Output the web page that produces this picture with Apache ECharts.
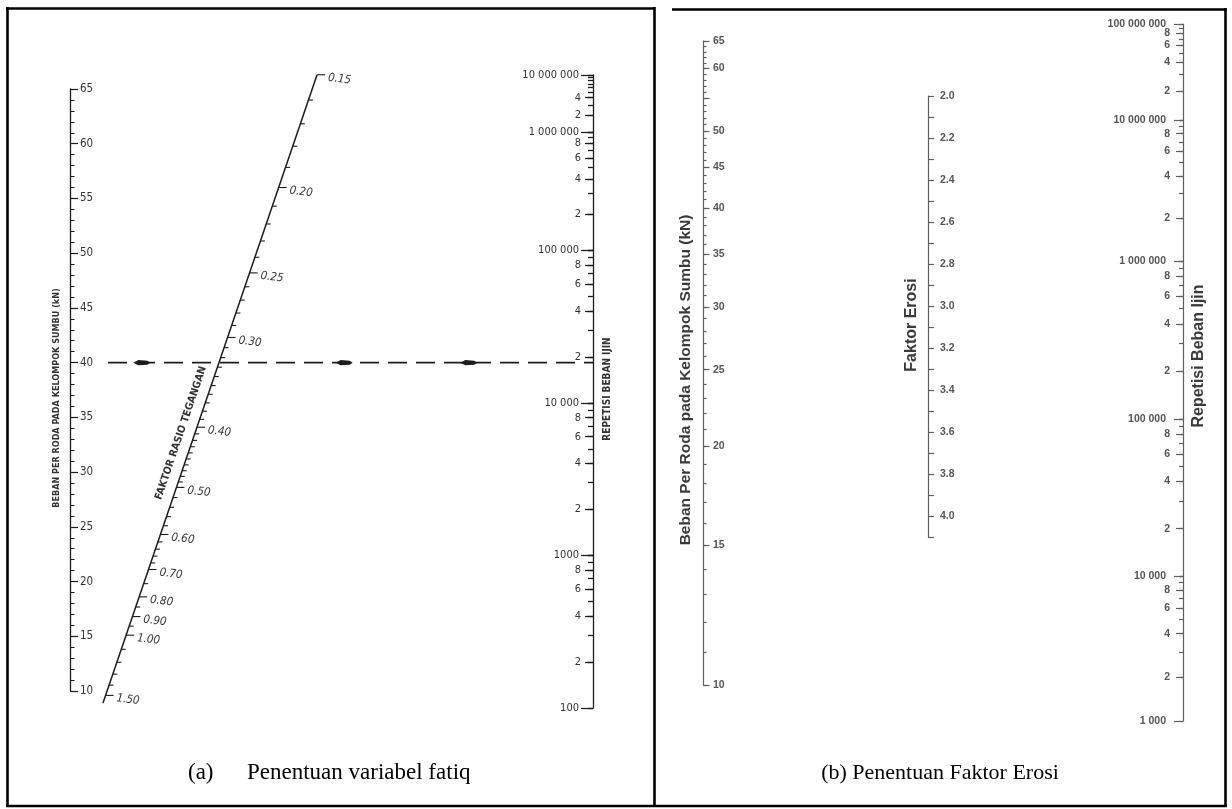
<!DOCTYPE html>
<html>
<head>
<meta charset="utf-8">
<title>Nomogram fatik dan erosi</title>
<script src="https://cdn.jsdelivr.net/npm/echarts@6/dist/echarts.min.js"></script>
<style>
  html, body { margin: 0; padding: 0; background: #fff; }
  #main { width: 1232px; height: 809px; }
</style>
</head>
<body>
<div id="main"></div>
<script>
// ---------- panel (a): penentuan variabel fatiq ----------
const ratioValues = [0.15, 0.20, 0.25, 0.30, 0.40, 0.50, 0.60, 0.70, 0.80, 0.90, 1.00, 1.50]
const ratioLabels = ['0.15', '0.20', '0.25', '0.30', '0.40', '0.50', '0.60', '0.70', '0.80', '0.90', '1.00', '1.50']
// level (in kN of the load scale) at which every ratio mark sits
const ratioAtLoad = [66.3, 56.0, 48.2, 42.3, 34.1, 28.6, 24.3, 21.1, 18.6, 16.8, 15.1, 9.6]
const ratioMinorStep = [0.01, 0.01, 0.01, 0.01, 0.01, 0.02, 0.02, 0.05, 0.05, 0.05, 0.1]
const ratioLineEnd = 8.9
const readLoad = 40

const repDecadesA = [100, 1000, 10000, 100000, 1000000, 10000000]
const repDecadeTextA = ['100', '1000', '10 000', '100 000', '1 000 000', '10 000 000']
const repSkipLabelA = [8000000]

// ---------- panel (b): penentuan faktor erosi ----------
const loadMajorB = [10, 15, 20, 25, 30, 35, 40, 45, 50, 55, 60, 65]
const loadLabelsB = [10, 15, 20, 25, 30, 35, 40, 45, 50, 60, 65]
const erosionLabels = [2.0, 2.2, 2.4, 2.6, 2.8, 3.0, 3.2, 3.4, 3.6, 3.8, 4.0]
const repDecadesB = [1000, 10000, 100000, 1000000, 10000000, 100000000]
const repDecadeTextB = ['1 000', '10 000', '100 000', '1 000 000', '10 000 000', '100 000 000']

const repMultiples = [2, 3, 4, 5, 6, 7, 8, 9]
const repLabeledMultiples = [2, 4, 6, 8]

// ---------- layout (pixels) ----------
const LAY = {
  a: { loadX: 70, top: 89, bottom: 691, repX: 593, repY: [708, 555, 403, 250, 132, 75],
       slant: [103, 703, 317, 75], dashStart: 108 },
  b: { loadX: 703, loadTop: 41, loadBottom: 685, eroX: 928, eroTop: 96, eroBottom: 537,
       repX: 1183, repY: [721, 576, 419, 261, 120, 24] }
}
const INK_A = '#1c1c1c'
const INK_B = '#5e5e5e'
const FONT_A = "'DejaVu Sans Condensed', 'Liberation Sans Narrow', 'DejaVu Sans', sans-serif"
const FONT_B = "'Liberation Sans', Arial, sans-serif"

const grids = []
const xAxes = []
const yAxes = []

function addGrid(left, top, width, height) {
  grids.push({ left: left, top: top, width: width, height: height, outerBoundsMode: 'none' })
  xAxes.push({ type: 'value', gridIndex: grids.length - 1, min: 0, max: 1, show: false })
  return grids.length - 1
}

function lg(v) { return Math.log10(v) }

function repFormatter(decades, texts) {
  return function (v) {
    const n = Math.round(Math.pow(10, v))
    const i = decades.indexOf(n)
    if (i >= 0) return texts[i]
    const p = Math.pow(10, Math.floor(v + 1e-9))
    return String(Math.round(n / p))
  }
}

// one grid per decade so each decade keeps the length it has in the picture
function addRepScale(x, decades, texts, ys, skip, style) {
  const fmt = repFormatter(decades, texts)
  for (let i = 0; i < decades.length - 1; i++) {
    const lo = decades[i], hi = decades[i + 1]
    const last = i === decades.length - 2
    const g = addGrid(x, ys[i + 1], 1, ys[i] - ys[i + 1])
    const all = [lo].concat(repMultiples.map(m => m * lo), [hi])
    const labeled = repLabeledMultiples.map(m => m * lo).filter(v => skip.indexOf(v) < 0)
    const dec = last ? [lo, hi] : [lo]
    const base = {
      type: 'value', gridIndex: g, min: lg(lo), max: lg(hi), position: 'left',
      splitLine: { show: false }
    }
    const lineStyle = { color: style.ink, width: style.width }
    const labelStyle = { fontSize: style.fontSize, color: style.labelColor, fontFamily: style.font,
      fontWeight: style.weight, formatter: fmt }
    yAxes.push(Object.assign({}, base, {
      axisLine: { show: true, onZero: false, lineStyle: lineStyle },
      axisTick: { show: true, length: style.tick[0], customValues: all.map(lg), lineStyle: lineStyle },
      axisLabel: { show: false }
    }))
    yAxes.push(Object.assign({}, base, {
      axisLine: { show: false, onZero: false },
      axisTick: { show: true, length: style.tick[1], customValues: labeled.map(lg), lineStyle: lineStyle },
      axisLabel: Object.assign({ customValues: labeled.map(lg), margin: style.margin[0] }, labelStyle)
    }))
    yAxes.push(Object.assign({}, base, {
      axisLine: { show: false, onZero: false },
      axisTick: { show: true, length: style.tick[2], customValues: dec.map(lg), lineStyle: lineStyle },
      axisLabel: Object.assign({ customValues: dec.map(lg), margin: style.margin[1] }, labelStyle)
    }))
  }
}

// ---- (a) load scale + hidden frame for the slanted ratio scale ----
const gA = addGrid(LAY.a.loadX, LAY.a.top, LAY.a.repX - LAY.a.loadX, LAY.a.bottom - LAY.a.top)
yAxes.push({
  type: 'value', gridIndex: gA, min: 10, max: 65, interval: 5, position: 'left',
  axisLine: { show: true, onZero: false, lineStyle: { color: INK_A, width: 1.3 } },
  axisTick: { show: true, inside: true, length: 8, lineStyle: { color: INK_A, width: 1.2 } },
  minorTick: { show: true, splitNumber: 5, length: 4.5, lineStyle: { color: INK_A, width: 1 } },
  splitLine: { show: false },
  axisLabel: { inside: true, margin: 10, fontSize: 11.5, color: '#333', fontFamily: FONT_A }
})
const yA = yAxes.length - 1

addRepScale(LAY.a.repX, repDecadesA, repDecadeTextA, LAY.a.repY, repSkipLabelA,
  { ink: INK_A, width: 1.3, fontSize: 11, labelColor: '#333', font: FONT_A, weight: 'normal',
    margin: [12, 14], tick: [5, 8, 12] })

// ---- (b) load scale (log) ----
const gBL = addGrid(LAY.b.loadX, LAY.b.loadTop, 1, LAY.b.loadBottom - LAY.b.loadTop)
const loadAllB = []
for (let v = 10; v <= 65; v++) loadAllB.push(v)
const bLineStyle = { color: INK_B, width: 1.2 }
const bLabel = { inside: true, margin: 10, fontSize: 10.5, color: '#555', fontWeight: 'bold', fontFamily: FONT_B }
yAxes.push({
  type: 'value', gridIndex: gBL, min: lg(10), max: lg(65), position: 'left', splitLine: { show: false },
  axisLine: { show: true, onZero: false, lineStyle: bLineStyle },
  axisTick: { show: true, inside: true, length: 3.5, customValues: loadAllB.map(lg), lineStyle: bLineStyle },
  axisLabel: { show: false }
})
yAxes.push({
  type: 'value', gridIndex: gBL, min: lg(10), max: lg(65), position: 'left', splitLine: { show: false },
  axisLine: { show: false, onZero: false },
  axisTick: { show: true, inside: true, length: 6.5, customValues: loadMajorB.map(lg), lineStyle: bLineStyle },
  axisLabel: Object.assign({ customValues: loadLabelsB.map(lg), formatter: v => String(Math.round(Math.pow(10, v))) }, bLabel)
})

// ---- (b) erosion factor scale ----
const gBM = addGrid(LAY.b.eroX, LAY.b.eroTop, 1, LAY.b.eroBottom - LAY.b.eroTop)
const eroTicks = []
for (let k = 0; k <= 21; k++) eroTicks.push(Math.round((2.0 + k * 0.1) * 10) / 10)
yAxes.push({
  type: 'value', gridIndex: gBM, min: 2.0, max: 4.1, inverse: true, position: 'left', splitLine: { show: false },
  axisLine: { show: true, onZero: false, lineStyle: bLineStyle },
  axisTick: { show: true, inside: true, length: 6, customValues: eroTicks, lineStyle: bLineStyle },
  axisLabel: Object.assign({ customValues: erosionLabels, formatter: v => v.toFixed(1) }, bLabel, { margin: 12 })
})

// ---- (b) allowable repetitions ----
addRepScale(LAY.b.repX, repDecadesB, repDecadeTextB, LAY.b.repY, [],
  { ink: INK_B, width: 1.2, fontSize: 10.5, labelColor: '#555', font: FONT_B, weight: 'bold',
    margin: [13, 17], tick: [4, 7, 9] })

// ---- slanted ratio scale: marks between the read ones follow a log spacing ----
const slantTicks = []
ratioValues.forEach((r, i) => {
  slantTicks.push({ value: [r, ratioAtLoad[i]], major: true, text: ratioLabels[i] })
  if (i < ratioValues.length - 1) {
    const r2 = ratioValues[i + 1]
    const n = Math.round((r2 - r) / ratioMinorStep[i])
    for (let k = 1; k < n; k++) {
      const rv = r + k * ratioMinorStep[i]
      const t = Math.log(rv / r) / Math.log(r2 / r)
      slantTicks.push({ value: [rv, ratioAtLoad[i] + t * (ratioAtLoad[i + 1] - ratioAtLoad[i])], major: false })
    }
  }
})

function slantX(y) {
  const s = LAY.a.slant
  return s[0] + (s[1] - y) * (s[2] - s[0]) / (s[1] - s[3])
}

const series = [
  {
    name: 'garis rasio', type: 'custom', xAxisIndex: 0, yAxisIndex: yA, silent: true,
    encode: { y: 1 },
    data: [[ratioLineEnd, ratioAtLoad[0]]],
    renderItem: (params, api) => {
      const yb = api.coord([0, api.value(0)])[1]
      const yt = api.coord([0, api.value(1)])[1]
      return { type: 'line', shape: { x1: slantX(yb), y1: yb, x2: slantX(yt), y2: yt },
        style: { stroke: INK_A, lineWidth: 1.5 } }
    }
  },
  {
    name: 'faktor rasio tegangan', type: 'custom', xAxisIndex: 0, yAxisIndex: yA, silent: true,
    encode: { y: 1 },
    data: slantTicks.map(t => t.value),
    renderItem: (params, api) => {
      const t = slantTicks[params.dataIndex]
      const y = api.coord([0, api.value(1)])[1]
      const x = slantX(y)
      const children = [{ type: 'line', shape: { x1: x, y1: y, x2: x + (t.major ? 8 : 4.5), y2: y },
        style: { stroke: INK_A, lineWidth: 1.1 } }]
      if (t.major) {
        children.push({ type: 'text', x: x + 11, y: y + 3, rotation: -0.12,
          style: { text: t.text, font: 'italic 11.5px ' + FONT_A, fill: '#333', verticalAlign: 'middle' } })
      }
      return { type: 'group', children: children }
    }
  },
  {
    name: 'garis baca', type: 'custom', xAxisIndex: 0, yAxisIndex: yA, silent: true,
    encode: { y: 0 },
    data: [[readLoad]],
    renderItem: (params, api) => {
      const y = api.coord([0, api.value(0)])[1]
      const x0 = LAY.a.dashStart, x1 = LAY.a.repX, xc = slantX(y)
      const arrow = cx => ({ type: 'polygon',
        shape: { points: [[cx - 8, y], [cx - 3, y - 2.6], [cx + 6, y - 2], [cx + 9, y], [cx + 6, y + 2], [cx - 3, y + 2.6]] },
        style: { fill: INK_A } })
      return { type: 'group', children: [
        { type: 'line', shape: { x1: x0, y1: y, x2: x1, y2: y },
          style: { stroke: INK_A, lineWidth: 1.6, lineDash: [19, 9] } },
        arrow(x0 + 0.3 * (xc - x0)), arrow(xc + (x1 - xc) / 3), arrow(xc + 2 * (x1 - xc) / 3)
      ] }
    }
  }
]

const border = { stroke: '#000', lineWidth: 2.6 }
const serif = '"Liberation Serif", "Times New Roman", serif'
const graphic = [
  { type: 'line', shape: { x1: 7.5, y1: 7, x2: 7.5, y2: 807 }, style: border },
  { type: 'line', shape: { x1: 6, y1: 8.5, x2: 655, y2: 8.5 }, style: border },
  { type: 'line', shape: { x1: 672, y1: 9.5, x2: 1226.5, y2: 9.5 }, style: border },
  { type: 'line', shape: { x1: 654.5, y1: 7, x2: 654.5, y2: 807 }, style: border },
  { type: 'line', shape: { x1: 1225.5, y1: 8, x2: 1225.5, y2: 807 }, style: border },
  { type: 'line', shape: { x1: 6, y1: 806, x2: 1227, y2: 806 }, style: border },
  // axis titles
  { type: 'text', x: 57, y: 398, rotation: Math.PI / 2,
    style: { text: 'BEBAN PER RODA PADA KELOMPOK SUMBU (kN)', font: 'bold 9px ' + FONT_A, fill: '#333', align: 'center', verticalAlign: 'middle' } },
  { type: 'text', x: 181, y: 433, rotation: Math.atan2(LAY.a.slant[1] - LAY.a.slant[3], LAY.a.slant[2] - LAY.a.slant[0]),
    style: { text: 'FAKTOR RASIO TEGANGAN', font: 'bold 10.5px ' + FONT_A, fill: '#333', align: 'center', verticalAlign: 'middle' } },
  { type: 'text', x: 607, y: 389, rotation: Math.PI / 2,
    style: { text: 'REPETISI BEBAN IJIN', font: 'bold 10px ' + FONT_A, fill: '#333', align: 'center', verticalAlign: 'middle' } },
  { type: 'text', x: 686, y: 380, rotation: Math.PI / 2,
    style: { text: 'Beban Per Roda pada Kelompok Sumbu (kN)', font: 'bold 15.5px ' + FONT_B, fill: '#3a3a3a', align: 'center', verticalAlign: 'middle' } },
  { type: 'text', x: 912, y: 325, rotation: Math.PI / 2,
    style: { text: 'Faktor Erosi', font: 'bold 16px ' + FONT_B, fill: '#3a3a3a', align: 'center', verticalAlign: 'middle' } },
  { type: 'text', x: 1199, y: 356, rotation: Math.PI / 2,
    style: { text: 'Repetisi Beban Ijin', font: 'bold 16px ' + FONT_B, fill: '#3a3a3a', align: 'center', verticalAlign: 'middle' } },
  // captions
  { type: 'text', x: 188, y: 773,
    style: { text: '(a)', font: '23px ' + serif, fill: '#000', verticalAlign: 'middle' } },
  { type: 'text', x: 247, y: 773,
    style: { text: 'Penentuan variabel fatiq', font: '23px ' + serif, fill: '#000', verticalAlign: 'middle' } },
  { type: 'text', x: 940, y: 773,
    style: { text: '(b) Penentuan Faktor Erosi', font: '22px ' + serif, fill: '#000', align: 'center', verticalAlign: 'middle' } }
]

const chart = echarts.init(document.getElementById('main'))
chart.setOption({
  animation: false,
  backgroundColor: '#fff',
  grid: grids,
  xAxis: xAxes,
  yAxis: yAxes,
  series: series,
  graphic: graphic
})
</script>
</body>
</html>
